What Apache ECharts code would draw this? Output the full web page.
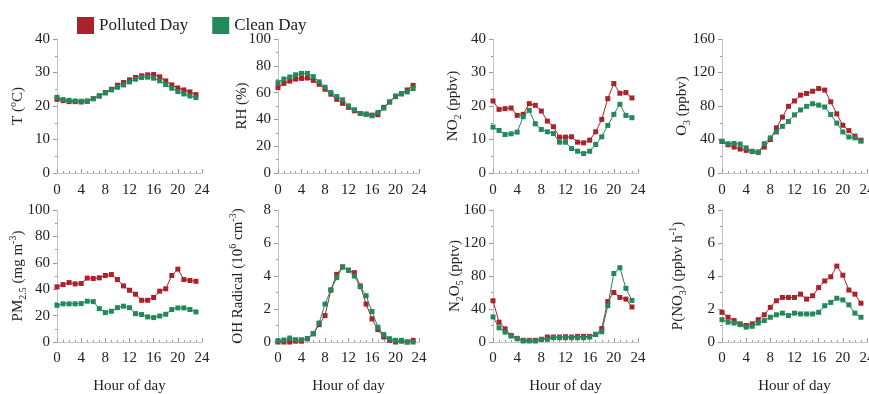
<!DOCTYPE html>
<html>
<head>
<meta charset="utf-8">
<script src="https://cdn.jsdelivr.net/npm/echarts@6/dist/echarts.min.js"></script>
<style>
html,body{margin:0;padding:0;background:#fff;}
#main{width:869px;height:394px;}
</style>
</head>
<body>
<div id="main"></div>
<script>
// hour of day, 0..23
var hours = [0,1,2,3,4,5,6,7,8,9,10,11,12,13,14,15,16,17,18,19,20,21,22,23];

var tPolluted  = [22.0,21.6,21.3,21.3,21.2,21.4,22.2,23.0,24.0,25.0,26.2,27.0,27.8,28.5,29.0,29.3,29.4,28.7,27.5,26.3,25.4,24.8,24.2,23.4];
var tClean     = [22.6,21.9,21.7,21.5,21.4,21.5,22.2,23.0,23.9,24.8,25.6,26.3,27.2,28.0,28.5,28.6,28.3,27.5,26.4,25.3,24.3,23.6,23.0,22.5];
var rhPolluted = [63.7,66.9,68.6,70.1,70.6,70.9,69.1,66.2,62.5,58.8,55.0,52.0,49.0,46.4,44.4,44.0,43.2,43.5,49.0,53.0,57.0,59.0,62.0,65.4];
var rhClean    = [67.4,70.1,71.6,73.3,74.3,74.3,71.9,68.0,64.0,60.0,57.0,54.6,50.1,47.2,44.4,43.7,42.7,45.2,48.4,53.0,57.5,59.3,60.5,63.0];
var no2Polluted= [21.5,19.0,19.2,19.4,17.2,17.5,20.7,20.2,18.5,15.5,13.8,10.7,10.7,10.8,9.2,9.0,9.8,12.3,16.0,22.2,26.7,23.8,24.0,22.4];
var no2Clean   = [13.7,12.7,11.5,11.7,12.2,16.8,18.7,14.7,13.0,12.3,11.8,9.2,9.2,7.3,6.5,5.8,6.5,8.5,10.8,14.2,17.5,20.5,17.2,16.5];
var o3Polluted = [37.6,33.7,31.0,28.6,27.0,25.9,25.0,31.0,40.0,54.0,66.7,79.6,86.0,93.0,95.0,97.6,100.8,99.0,85.0,70.6,57.0,50.6,44.0,39.2];
var o3Clean    = [38.0,35.0,35.3,34.5,30.0,25.5,24.7,35.0,42.0,49.0,55.7,61.6,69.4,75.3,79.6,82.7,81.0,78.8,69.8,59.6,49.0,43.0,42.0,38.0];
var pmPolluted = [41.8,43.5,45.0,44.0,44.3,48.4,48.1,48.6,50.4,51.1,47.3,42.5,39.2,36.2,31.6,31.6,33.7,38.5,40.3,50.4,55.2,47.3,46.6,46.0];
var pmClean    = [27.8,28.9,28.9,28.9,29.1,30.9,30.6,25.3,22.3,23.3,26.0,27.1,26.0,21.5,20.8,19.0,18.5,19.7,21.0,24.6,25.8,25.8,24.6,22.8];
var ohPolluted = [0.0,0.0,0.0,0.05,0.05,0.2,0.5,1.05,1.6,3.15,4.1,4.55,4.35,4.2,3.4,2.3,1.4,0.75,0.3,0.1,0.0,0.05,0.0,0.1];
var ohClean    = [0.08,0.12,0.24,0.14,0.14,0.2,0.5,1.15,2.3,3.15,3.9,4.55,4.35,4.0,3.35,2.8,1.85,0.9,0.45,0.2,0.1,0.1,0.0,0.0];
var n2o5Polluted=[50.0,24.0,16.0,8.0,4.4,2.0,2.0,2.0,3.2,6.0,6.0,6.0,6.4,6.0,6.8,6.8,6.8,9.2,16.4,49.0,60.0,54.0,52.0,42.4];
var n2o5Clean  = [30.4,17.2,12.0,7.2,4.0,1.2,1.2,1.2,3.2,3.2,5.2,5.2,5.2,5.2,5.2,5.2,6.0,9.2,12.4,44.0,83.0,90.0,65.0,50.4];
var pno3Polluted=[1.8,1.5,1.3,1.1,1.0,1.1,1.35,1.65,2.1,2.5,2.7,2.7,2.7,2.9,2.6,2.8,3.3,3.7,3.95,4.6,4.05,3.15,2.9,2.35];
var pno3Clean  = [1.35,1.2,1.15,1.05,0.9,0.95,1.15,1.3,1.5,1.65,1.75,1.6,1.75,1.7,1.7,1.7,1.8,2.2,2.4,2.65,2.55,2.25,1.75,1.5];

// y axis ranges and names per panel
var yMax      = [40,100,40,160,100,8,160,8];
var yStep     = [10,20,10,40,20,2,40,2];
var yNames    = ['T ({sup|o}C)','RH (%)','NO{sub|2} (ppbv)','O{sub|3} (ppbv)',
                 'PM{sub|2.5} (mg m{sup|-3})','OH Radical (10{sup|6} cm{sup|-3})','N{sub|2}O{sub|5} (pptv)','P(NO{sub|3}) (ppbv h{sup|-1})'];
var polluted  = [tPolluted,rhPolluted,no2Polluted,o3Polluted,pmPolluted,ohPolluted,n2o5Polluted,pno3Polluted];
var clean     = [tClean,rhClean,no2Clean,o3Clean,pmClean,ohClean,n2o5Clean,pno3Clean];

var FONT = "'Liberation Serif','Times New Roman',serif";
var RED = '#a9232b', GREEN = '#23885a', AXIS = '#c4c4c4';

var lefts  = [57,278,493,722];
var widths = [145,141,145,145];
var nameGaps = [29,26,30,30,29,30,28,34];

function pairs(arr){
	var out=[];
	for (var i = 0; i < hours.length; i++) out.push([hours[i],arr[i]]);
	return out;
}

var grids=[],xAxes=[],yAxes=[],series=[];
for (var p = 0; p < 8; p++) {
	var row = p<4 ? 0 : 1;
	var col = p%4;
	grids.push(row==0
		? {left:lefts[col],width:widths[col],top:39,height:134,outerBoundsMode:'none'}
		: {left:lefts[col],width:widths[col],top:210,height:132,outerBoundsMode:'none'});
	xAxes.push({
		type:'value',gridIndex:p,min:0,max:24,interval:4,
		name: row==1 ? 'Hour of day' : '',
		nameLocation:'middle',nameGap:37,nameMoveOverlap:false,
		nameTextStyle:{fontFamily:FONT,fontSize:15,color:'#222'},
		axisLine:{lineStyle:{color:AXIS,width:1}},
		axisTick:{inside:true,length:4,lineStyle:{color:'#999'}},
		minorTick:{show:true,splitNumber:4,length:2,lineStyle:{color:'#999'}},
		axisLabel:{fontFamily:FONT,fontSize:15,color:'#222',margin:row==0?10:9},
		splitLine:{show:false}
	});
	yAxes.push({
		type:'value',gridIndex:p,min:0,max:yMax[p],interval:yStep[p],
		name:yNames[p],nameLocation:'middle',nameRotate:90,nameGap:nameGaps[p],
		nameMoveOverlap:false,
		nameTextStyle:{fontFamily:FONT,fontSize:15,color:'#222',lineHeight:20,
			rich:{
				sub:{fontFamily:FONT,fontSize:10,color:'#222',verticalAlign:'bottom',lineHeight:12},
				sup:{fontFamily:FONT,fontSize:10,color:'#222',verticalAlign:'top',lineHeight:12}
			}},
		axisLine:{show:true,lineStyle:{color:AXIS,width:1}},
		axisTick:{show:true,length:4,lineStyle:{color:'#999'}},
		minorTick:{show:true,splitNumber:2,length:2,lineStyle:{color:'#999'}},
		axisLabel:{fontFamily:FONT,fontSize:15,color:'#222',margin:7},
		splitLine:{show:false}
	});
	series.push({
		name:'Polluted Day',type:'line',xAxisIndex:p,yAxisIndex:p,
		data:pairs(polluted[p]),symbol:'rect',symbolSize:5,
		itemStyle:{color:RED},lineStyle:{color:RED,width:1},z:2
	});
	series.push({
		name:'Clean Day',type:'line',xAxisIndex:p,yAxisIndex:p,
		data:pairs(clean[p]),symbol:'rect',symbolSize:5,
		itemStyle:{color:GREEN},lineStyle:{color:GREEN,width:1},z:3
	});
}

var myChart = echarts.init(document.getElementById('main'),null,{renderer:'canvas'});
myChart.setOption({
	animation:false,
	backgroundColor:'#fff',
	legend:{
		data:['Polluted Day','Clean Day'],
		left:72,top:12,itemWidth:17,itemHeight:17,itemGap:24,icon:'rect',
		textStyle:{fontFamily:FONT,fontSize:17,color:'#222'}
	},
	grid:grids,
	xAxis:xAxes,
	yAxis:yAxes,
	series:series
});
</script>
</body>
</html>
